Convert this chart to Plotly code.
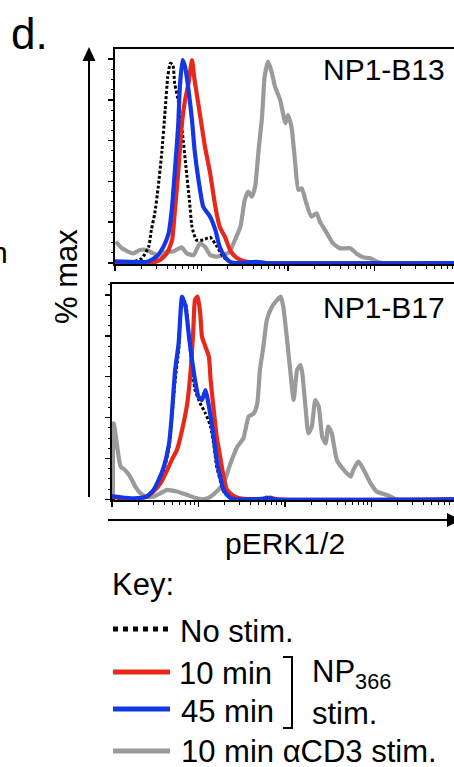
import plotly.graph_objects as go

W, H = 454, 767

# ---------------- data (x in log10 decades of pERK1/2 fluorescence, y in % max) -------------
# Panel NP1-B13
b13_nostim_x = [0.00, 0.21, 0.31, 0.39, 0.42, 0.46, 0.50, 0.54, 0.58, 0.61, 0.64, 0.67, 0.69, 0.73, 0.78, 0.82, 0.86, 0.89, 0.94, 1.02, 1.10, 1.18, 1.25, 1.33, 1.45]
b13_nostim_y = [0.0, 0.6, 2.3, 8.0, 16.2, 24.4, 37.4, 53.8, 75.0, 91.3, 97.9, 97.0, 88.0, 79.9, 63.6, 47.2, 30.9, 17.8, 11.3, 11.3, 12.6, 8.0, 3.1, 0.6, 0.0]

b13_red_x = [0.00, 0.40, 0.52, 0.60, 0.66, 0.69, 0.73, 0.77, 0.81, 0.85, 0.89, 0.92, 0.98, 1.04, 1.10, 1.16, 1.21, 1.27, 1.33, 1.39, 1.45, 1.60, 1.75, 3.95]
b13_red_y = [0.3, 0.0, 1.5, 4.7, 11.3, 24.4, 44.0, 66.8, 79.9, 88.0, 99.5, 89.7, 73.4, 57.0, 44.0, 27.6, 17.8, 12.9, 6.4, 3.1, 1.5, 0.2, 0.0, 0.0]

b13_blue_x = [0.00, 0.37, 0.48, 0.56, 0.62, 0.66, 0.69, 0.73, 0.75, 0.78, 0.81, 0.85, 0.89, 0.92, 0.96, 1.02, 1.10, 1.16, 1.21, 1.27, 1.33, 1.45, 1.64, 1.75, 3.95]
b13_blue_y = [0.8, 0.6, 3.1, 8.0, 14.6, 27.6, 44.0, 66.8, 86.4, 99.5, 96.2, 84.8, 70.1, 55.4, 42.3, 27.6, 22.7, 16.2, 8.0, 3.1, 0.6, 0.0, 0.6, 0.0, 0.0]

b13_gray_x = [0.01, 0.08, 0.21, 0.29, 0.37, 0.44, 0.52, 0.60, 0.67, 0.77, 0.83, 0.91, 0.98, 1.04, 1.10, 1.18, 1.25, 1.33, 1.37, 1.45, 1.50, 1.54, 1.58, 1.62, 1.66, 1.70, 1.73, 1.77, 1.81, 1.85, 1.91, 1.97, 2.00, 2.04, 2.08, 2.12, 2.16, 2.20, 2.27, 2.33, 2.37, 2.45, 2.52, 2.60, 2.72, 2.79, 2.87, 2.95, 3.03, 3.10, 3.95]
b13_gray_y = [10.5, 7.2, 4.7, 6.4, 6.4, 4.7, 3.9, 5.6, 5.6, 7.7, 4.7, 3.9, 9.6, 8.0, 3.9, 3.1, 3.9, 5.6, 9.6, 17.8, 30.9, 35.0, 32.5, 37.4, 55.4, 71.7, 91.3, 98.7, 93.8, 86.4, 79.9, 68.5, 72.5, 66.8, 50.5, 35.8, 36.6, 30.9, 22.7, 24.4, 20.2, 14.6, 9.6, 7.2, 7.2, 4.7, 2.8, 2.3, 0.6, 0.0, 0.0]

# Panel NP1-B17
b17_nostim_x = [0.00, 0.40, 0.48, 0.56, 0.62, 0.66, 0.69, 0.73, 0.77, 0.81, 0.85, 0.89, 0.92, 0.96, 1.02, 1.08, 1.14, 1.18, 1.21, 1.25, 1.29, 1.37, 1.45]
b17_nostim_y = [0.0, 1.0, 3.8, 9.5, 17.6, 25.8, 38.8, 58.4, 73.1, 97.6, 95.9, 79.6, 66.6, 53.5, 47.0, 42.1, 35.6, 25.8, 16.0, 9.5, 3.8, 0.5, 0.0]

b17_red_x = [0.00, 0.25, 0.40, 0.48, 0.56, 0.64, 0.69, 0.75, 0.81, 0.87, 0.91, 0.94, 0.96, 0.99, 1.02, 1.04, 1.08, 1.12, 1.14, 1.18, 1.21, 1.25, 1.29, 1.33, 1.41, 1.48, 1.79, 1.83, 1.91, 3.98]
b17_red_y = [1.3, 0.0, 1.3, 3.8, 7.8, 14.4, 19.2, 24.1, 33.9, 47.0, 63.3, 82.9, 97.6, 99.2, 91.0, 79.6, 74.7, 69.8, 58.4, 42.1, 30.7, 20.9, 11.1, 4.6, 1.6, 0.5, 0.0, 0.8, 0.0, 0.0]

b17_blue_x = [0.00, 0.10, 0.25, 0.40, 0.48, 0.54, 0.60, 0.66, 0.69, 0.73, 0.77, 0.81, 0.85, 0.89, 0.92, 0.96, 1.00, 1.04, 1.08, 1.10, 1.14, 1.18, 1.21, 1.25, 1.29, 1.35, 1.41, 1.75, 1.79, 1.87, 3.98]
b17_blue_y = [1.6, 1.0, 0.5, 1.3, 4.6, 9.5, 16.0, 27.4, 40.5, 63.3, 76.3, 99.2, 94.3, 79.6, 69.8, 58.4, 50.2, 48.6, 53.5, 50.2, 40.5, 29.0, 19.2, 11.1, 4.6, 1.3, 0.0, 0.3, 0.8, 0.0, 0.0]

b17_gray_x = [0.01, 0.02, 0.06, 0.10, 0.15, 0.21, 0.27, 0.33, 0.40, 0.48, 0.64, 0.75, 0.87, 0.98, 1.06, 1.14, 1.21, 1.29, 1.37, 1.45, 1.52, 1.58, 1.64, 1.68, 1.71, 1.75, 1.79, 1.85, 1.91, 1.95, 1.98, 2.02, 2.06, 2.10, 2.14, 2.18, 2.20, 2.24, 2.27, 2.31, 2.35, 2.39, 2.43, 2.47, 2.50, 2.54, 2.60, 2.68, 2.76, 2.79, 2.85, 2.91, 2.99, 3.06, 3.18, 3.29, 3.98]
b17_gray_y = [0.0, 37.2, 25.8, 16.0, 14.4, 11.1, 6.2, 2.9, 1.3, 1.3, 4.6, 3.8, 2.1, 0.5, 0.0, 1.3, 3.8, 7.8, 17.6, 25.8, 29.9, 40.5, 42.1, 47.0, 63.3, 74.7, 87.8, 94.3, 97.6, 99.2, 94.3, 79.6, 63.3, 48.6, 63.3, 65.7, 61.7, 43.7, 32.3, 35.6, 48.6, 45.4, 30.7, 27.4, 35.6, 32.3, 19.2, 14.4, 11.1, 14.4, 18.4, 14.4, 7.8, 3.8, 2.1, 0.0, 0.0]

panel_names = ["NP1-B13", "NP1-B17"]
y_major = [0, 20, 40, 60, 80, 100]
x_major = [0, 1, 2, 3]
x_minor = [d + m for d in range(4) for m in [0.301, 0.477, 0.602, 0.699, 0.778, 0.845, 0.903, 0.954]]

legend_labels = ["No stim.", "10 min", "45 min", "10 min αCD3 stim."]

RED = "#E8281A"
BLUE = "#1437E6"
GRAY = "#9A9A9A"
BLACK = "#000000"
FONT = "Liberation Sans, Arial, Helvetica, sans-serif"
LW = 4.2


def px(x):
    return x / W


def py(y):
    return 1 - y / H


fig = go.Figure()

panels = [
    (b13_gray_x, b13_gray_y, b13_nostim_x, b13_nostim_y, b13_red_x, b13_red_y, b13_blue_x, b13_blue_y, "x", "y"),
    (b17_gray_x, b17_gray_y, b17_nostim_x, b17_nostim_y, b17_red_x, b17_red_y, b17_blue_x, b17_blue_y, "x2", "y2"),
]
for gx, gy, nx, ny, rx, ry, bx, by, xa, ya in panels:
    fig.add_trace(go.Scatter(x=gx, y=gy, mode="lines", xaxis=xa, yaxis=ya,
                             line=dict(color=GRAY, width=LW, shape="spline", smoothing=0.5)))
    fig.add_trace(go.Scatter(x=nx, y=ny, mode="lines", xaxis=xa, yaxis=ya,
                             line=dict(color=BLACK, width=3, dash="3px,2px", shape="spline", smoothing=0.5)))
    fig.add_trace(go.Scatter(x=rx, y=ry, mode="lines", xaxis=xa, yaxis=ya,
                             line=dict(color=RED, width=LW, shape="spline", smoothing=0.5)))
    fig.add_trace(go.Scatter(x=bx, y=by, mode="lines", xaxis=xa, yaxis=ya,
                             line=dict(color=BLUE, width=LW, shape="spline", smoothing=0.5)))


def xaxis_cfg(left_px):
    return dict(
        domain=[px(left_px), 1], range=[0, (W - left_px) / 86.5],
        showline=True, linecolor="black", linewidth=2, mirror=True,
        showgrid=False, zeroline=False, showticklabels=False,
        ticks="outside", tickvals=x_major, ticklen=5, tickwidth=1.5, tickcolor="black",
        minor=dict(tickmode="array", tickvals=x_minor, ticks="outside", ticklen=2.5,
                   tickwidth=1, tickcolor="black", showgrid=False),
        fixedrange=True,
    )


def yaxis_cfg(top_px, bottom_px, zero_px, hundred_px, anchor):
    scale = (zero_px - hundred_px) / 100.0
    return dict(
        domain=[py(bottom_px), py(top_px)],
        range=[-(bottom_px - zero_px) / scale, (zero_px - top_px) / scale],
        anchor=anchor,
        showline=True, linecolor="black", linewidth=2, mirror=False,
        showgrid=False, zeroline=False, showticklabels=False,
        ticks="outside", tickvals=y_major, ticklen=5, tickwidth=1.5, tickcolor="black",
        minor=dict(dtick=5, tick0=0, ticks="outside", ticklen=2.5, tickwidth=1,
                   tickcolor="black", showgrid=False),
        fixedrange=True,
    )


fig.update_layout(
    width=W, height=H,
    margin=dict(l=0, r=0, t=0, b=0),
    paper_bgcolor="white", plot_bgcolor="white",
    showlegend=False,
    font=dict(family=FONT, color="black"),
    xaxis=dict(**xaxis_cfg(115), anchor="y"),
    yaxis=yaxis_cfg(49, 264, 263, 59, "x"),
    xaxis2=dict(**xaxis_cfg(112), anchor="y2"),
    yaxis2=yaxis_cfg(284, 500, 499.3, 295, "x2"),
)

shapes = []
# vertical arrow (% max)
shapes.append(dict(type="line", xref="paper", yref="paper", x0=px(89), x1=px(89), y0=py(497), y1=py(58),
                   line=dict(color="black", width=2)))
shapes.append(dict(type="path", xref="paper", yref="paper",
                   path=f"M {px(89)} {py(47)} L {px(82.5)} {py(61)} L {px(95.5)} {py(61)} Z",
                   fillcolor="black", line=dict(color="black", width=0)))
# horizontal arrow (pERK1/2)
shapes.append(dict(type="line", xref="paper", yref="paper", x0=px(108), x1=px(448), y0=py(520), y1=py(520),
                   line=dict(color="black", width=2)))
shapes.append(dict(type="path", xref="paper", yref="paper",
                   path=f"M {px(447)} {py(513)} L {px(447)} {py(527)} L {px(461)} {py(520)} Z",
                   fillcolor="black", line=dict(color="black", width=0)))
# legend swatches
sw = [(629, BLACK, "dot"), (672, RED, "solid"), (709, BLUE, "solid"), (751, GRAY, "solid")]
for yy, col, dash in sw:
    shapes.append(dict(type="line", xref="paper", yref="paper", x0=px(113), x1=px(170), y0=py(yy), y1=py(yy),
                       line=dict(color=col, width=5, dash=dash)))
# bracket
shapes.append(dict(type="path", xref="paper", yref="paper",
                   path=f"M {px(283)} {py(657)} L {px(292)} {py(657)} L {px(292)} {py(728)} L {px(283)} {py(728)}",
                   line=dict(color="black", width=2)))
fig.update_layout(shapes=shapes)

ann = []


def text(t, x, y, size, xanchor="left", yanchor="middle", angle=0):
    ann.append(dict(text=t, xref="paper", yref="paper", x=px(x), y=py(y), showarrow=False,
                    xanchor=xanchor, yanchor=yanchor, textangle=angle,
                    font=dict(size=size, family=FONT, color="black")))


text("d.", 9, 33, 44)
text(panel_names[0], 321, 69, 30)
text(panel_names[1], 321, 308, 30)
text("% max", 66, 277, 31, xanchor="center", angle=-90)
text("pERK1/2", 285, 543, 30, xanchor="center")
text("Key:", 110, 584, 31)
text(legend_labels[0], 178, 631, 31)
text(legend_labels[1], 177, 673, 31)
text(legend_labels[2], 179, 711, 31)
text(legend_labels[3], 179, 751, 31)
text("NP<sub>366</sub>", 310, 674, 31)
text("stim.", 310, 713, 31)
text("n", 10, 252, 30, xanchor="right")
fig.update_layout(annotations=ann)

fig.write_html(
    "out.html",
    config={"displayModeBar": False, "staticPlot": True},
    post_script="document.body.style.margin='0';document.body.style.overflow='hidden';",
)
